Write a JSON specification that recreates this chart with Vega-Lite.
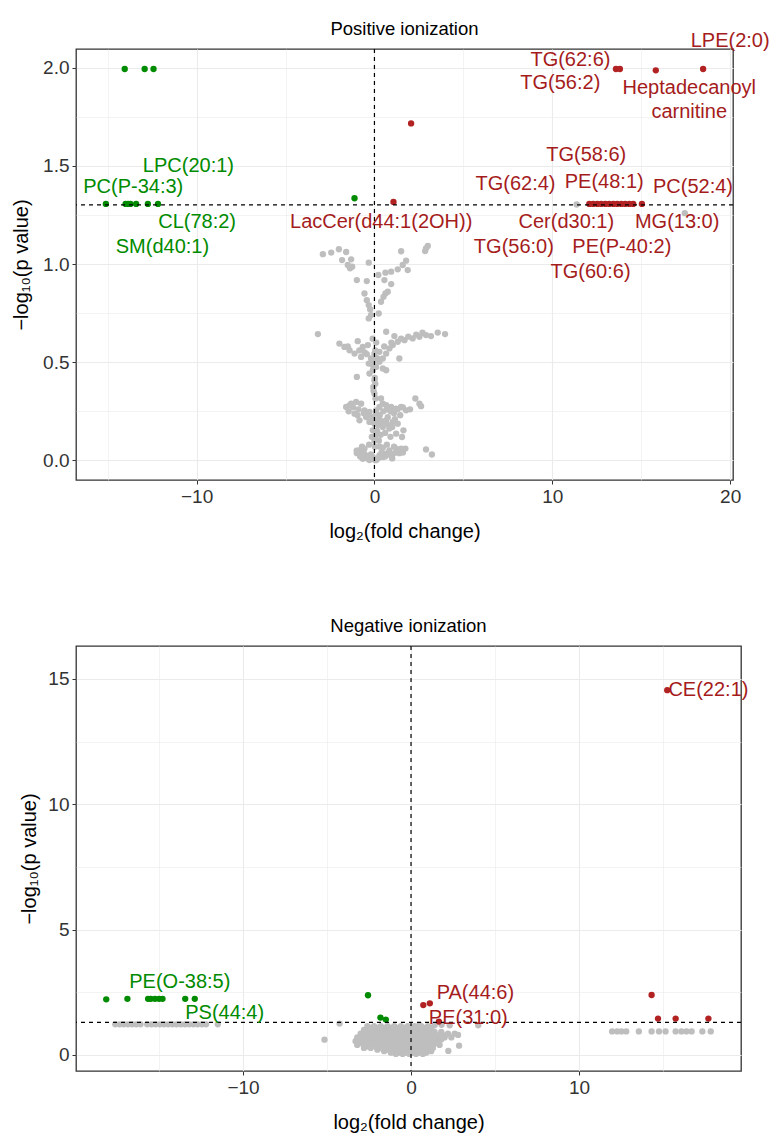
{
  "$schema": "https://vega.github.io/schema/vega-lite/v6.json",
  "background": "white",
  "padding": {"left": 10, "top": 19, "right": 5, "bottom": 0},
  "spacing": 74,
  "config": {
    "font": "Liberation Sans",
    "view": {"stroke": "#333333", "strokeWidth": 1.3},
    "axis": {"domain": false, "grid": true, "gridColor": "#ebebeb", "tickColor": "#333333", "tickSize": 4, "labelColor": "#333333", "labelFontSize": 19, "labelFont": "Liberation Sans", "labelPadding": 3, "titleFont": "Liberation Sans", "titleFontSize": 20, "titleFontWeight": "normal", "titleColor": "#000000", "titlePadding": 8},
    "axisX": {"titlePadding": 15},
    "title": {"fontSize": 18.5, "fontWeight": "normal", "font": "Liberation Sans", "color": "#000000", "anchor": "middle", "offset": 10}
  },
  "datasets": {
    "pos": [
      {"x":-2.90,"y":1.050,"g":"ns"},{"x":-2.43,"y":1.058,"g":"ns"},{"x":-2.00,"y":1.075,"g":"ns"},{"x":-1.59,"y":1.061,"g":"ns"},{"x":-1.31,"y":1.024,"g":"ns"},{"x":-1.82,"y":1.020,"g":"ns"},{"x":-1.50,"y":0.995,"g":"ns"},{"x":-1.37,"y":0.978,"g":"ns"},{"x":-1.25,"y":0.986,"g":"ns"},{"x":-0.99,"y":0.918,"g":"ns"},{"x":-0.43,"y":0.913,"g":"ns"},{"x":-0.32,"y":1.007,"g":"ns"},
      {"x":1.50,"y":1.065,"g":"ns"},{"x":2.90,"y":1.080,"g":"ns"},{"x":3.00,"y":1.092,"g":"ns"},{"x":2.85,"y":1.066,"g":"ns"},{"x":1.78,"y":1.017,"g":"ns"},{"x":1.59,"y":0.995,"g":"ns"},{"x":1.31,"y":0.973,"g":"ns"},{"x":0.94,"y":0.961,"g":"ns"},{"x":0.62,"y":0.956,"g":"ns"},{"x":0.22,"y":0.944,"g":"ns"},{"x":1.87,"y":0.969,"g":"ns"},{"x":0.56,"y":0.918,"g":"ns"},{"x":0.94,"y":0.898,"g":"ns"},
      {"x":-0.56,"y":0.850,"g":"ns"},{"x":-0.43,"y":0.816,"g":"ns"},{"x":-0.32,"y":0.791,"g":"ns"},{"x":-0.24,"y":0.769,"g":"ns"},{"x":-0.19,"y":0.740,"g":"ns"},{"x":-0.32,"y":0.723,"g":"ns"},{"x":0.24,"y":0.748,"g":"ns"},{"x":0.37,"y":0.808,"g":"ns"},{"x":0.51,"y":0.833,"g":"ns"},{"x":0.62,"y":0.850,"g":"ns"},{"x":0.75,"y":0.859,"g":"ns"},
      {"x":-3.18,"y":0.643,"g":"ns"},{"x":0.66,"y":0.655,"g":"ns"},{"x":1.12,"y":0.633,"g":"ns"},{"x":3.56,"y":0.651,"g":"ns"},{"x":3.97,"y":0.643,"g":"ns"},{"x":-1.97,"y":0.595,"g":"ns"},{"x":-1.69,"y":0.578,"g":"ns"},{"x":-1.40,"y":0.561,"g":"ns"},{"x":-0.94,"y":0.607,"g":"ns"},{"x":-0.66,"y":0.578,"g":"ns"},{"x":-0.37,"y":0.587,"g":"ns"},{"x":-1.12,"y":0.544,"g":"ns"},{"x":-0.75,"y":0.527,"g":"ns"},{"x":-0.43,"y":0.541,"g":"ns"},{"x":-0.19,"y":0.519,"g":"ns"},{"x":-0.32,"y":0.493,"g":"ns"},{"x":-0.09,"y":0.485,"g":"ns"},{"x":0.09,"y":0.476,"g":"ns"},{"x":0.28,"y":0.502,"g":"ns"},{"x":0.47,"y":0.519,"g":"ns"},{"x":0.66,"y":0.544,"g":"ns"},{"x":0.84,"y":0.570,"g":"ns"},{"x":1.03,"y":0.587,"g":"ns"},{"x":1.31,"y":0.604,"g":"ns"},{"x":1.69,"y":0.612,"g":"ns"},{"x":2.15,"y":0.621,"g":"ns"},{"x":2.53,"y":0.629,"g":"ns"},{"x":2.90,"y":0.638,"g":"ns"},{"x":3.18,"y":0.633,"g":"ns"},{"x":1.40,"y":0.519,"g":"ns"},{"x":0.28,"y":0.553,"g":"ns"},{"x":0.00,"y":0.544,"g":"ns"},{"x":0.66,"y":0.459,"g":"ns"},{"x":0.47,"y":0.468,"g":"ns"},{"x":-0.09,"y":0.459,"g":"ns"},{"x":-0.28,"y":0.442,"g":"ns"},{"x":-0.99,"y":0.425,"g":"ns"},
      {"x":-1.5,"y":0.58,"g":"ns"},{"x":-0.85,"y":0.56,"g":"ns"},{"x":-0.55,"y":0.55,"g":"ns"},{"x":0.15,"y":0.52,"g":"ns"},{"x":0.55,"y":0.58,"g":"ns"},{"x":0.95,"y":0.6,"g":"ns"},{"x":1.5,"y":0.62,"g":"ns"},{"x":1.9,"y":0.63,"g":"ns"},{"x":2.35,"y":0.64,"g":"ns"},{"x":2.7,"y":0.65,"g":"ns"},
      {"x":0.00,"y":0.408,"g":"ns"},{"x":-0.06,"y":0.374,"g":"ns"},{"x":0.00,"y":0.340,"g":"ns"},{"x":0.06,"y":0.315,"g":"ns"},{"x":0.05,"y":0.39,"g":"ns"},{"x":-0.05,"y":0.355,"g":"ns"},{"x":0.02,"y":0.42,"g":"ns"},{"x":-0.05,"y":0.5,"g":"ns"},{"x":0.05,"y":0.56,"g":"ns"},{"x":0.1,"y":0.6,"g":"ns"},{"x":-0.1,"y":0.62,"g":"ns"},
      {"x":-1.59,"y":0.272,"g":"ns"},{"x":-1.31,"y":0.289,"g":"ns"},{"x":-1.03,"y":0.298,"g":"ns"},{"x":-0.75,"y":0.289,"g":"ns"},{"x":-0.56,"y":0.255,"g":"ns"},{"x":-0.28,"y":0.247,"g":"ns"},{"x":0.09,"y":0.255,"g":"ns"},{"x":0.28,"y":0.272,"g":"ns"},{"x":0.47,"y":0.289,"g":"ns"},{"x":0.66,"y":0.281,"g":"ns"},{"x":0.94,"y":0.272,"g":"ns"},{"x":1.22,"y":0.264,"g":"ns"},{"x":1.50,"y":0.272,"g":"ns"},{"x":1.78,"y":0.255,"g":"ns"},{"x":0.37,"y":0.315,"g":"ns"},{"x":2.30,"y":0.315,"g":"ns"},{"x":2.53,"y":0.289,"g":"ns"},{"x":2.62,"y":0.276,"g":"ns"},
      {"x":-1.4,"y":0.28,"g":"ns"},{"x":-1.2,"y":0.27,"g":"ns"},{"x":-0.9,"y":0.26,"g":"ns"},{"x":-0.6,"y":0.24,"g":"ns"},{"x":-0.3,"y":0.23,"g":"ns"},{"x":0.1,"y":0.24,"g":"ns"},{"x":0.3,"y":0.23,"g":"ns"},{"x":0.5,"y":0.25,"g":"ns"},{"x":0.7,"y":0.26,"g":"ns"},{"x":0.9,"y":0.25,"g":"ns"},{"x":1.1,"y":0.24,"g":"ns"},{"x":1.3,"y":0.26,"g":"ns"},{"x":1.6,"y":0.27,"g":"ns"},{"x":-0.2,"y":0.2,"g":"ns"},{"x":0.2,"y":0.18,"g":"ns"},{"x":0.4,"y":0.2,"g":"ns"},{"x":0.6,"y":0.19,"g":"ns"},{"x":0.8,"y":0.18,"g":"ns"},{"x":1.0,"y":0.17,"g":"ns"},{"x":0.15,"y":0.15,"g":"ns"},{"x":0.35,"y":0.13,"g":"ns"},{"x":0.6,"y":0.14,"g":"ns"},{"x":0.9,"y":0.12,"g":"ns"},
      {"x":-1.45,"y":0.25,"g":"ns"},{"x":-0.95,"y":0.23,"g":"ns"},{"x":-0.1,"y":0.22,"g":"ns"},{"x":0.2,"y":0.21,"g":"ns"},{"x":0.75,"y":0.22,"g":"ns"},{"x":1.15,"y":0.21,"g":"ns"},{"x":1.45,"y":0.23,"g":"ns"},{"x":2.0,"y":0.26,"g":"ns"},{"x":0.25,"y":0.1,"g":"ns"},{"x":-0.15,"y":0.12,"g":"ns"},
      {"x":-0.47,"y":0.221,"g":"ns"},{"x":-0.28,"y":0.196,"g":"ns"},{"x":0.00,"y":0.187,"g":"ns"},{"x":0.28,"y":0.204,"g":"ns"},{"x":0.66,"y":0.204,"g":"ns"},{"x":1.03,"y":0.196,"g":"ns"},{"x":1.31,"y":0.187,"g":"ns"},{"x":0.47,"y":0.170,"g":"ns"},{"x":0.84,"y":0.162,"g":"ns"},{"x":-0.09,"y":0.153,"g":"ns"},{"x":0.09,"y":0.128,"g":"ns"},{"x":1.22,"y":0.136,"g":"ns"},{"x":1.63,"y":0.153,"g":"ns"},{"x":1.55,"y":0.119,"g":"ns"},{"x":-0.84,"y":0.204,"g":"ns"},{"x":-1.12,"y":0.238,"g":"ns"},{"x":0.0,"y":0.1,"g":"ns"},{"x":0.02,"y":0.07,"g":"ns"},
      {"x":-0.88,"y":0.051,"g":"ns"},{"x":-0.75,"y":0.034,"g":"ns"},{"x":-0.47,"y":0.026,"g":"ns"},{"x":-0.09,"y":0.017,"g":"ns"},{"x":0.28,"y":0.026,"g":"ns"},{"x":0.66,"y":0.034,"g":"ns"},{"x":1.03,"y":0.031,"g":"ns"},{"x":1.40,"y":0.037,"g":"ns"},{"x":1.74,"y":0.060,"g":"ns"},{"x":2.90,"y":0.056,"g":"ns"},{"x":-0.66,"y":0.008,"g":"ns"},{"x":-0.28,"y":0.002,"g":"ns"},{"x":0.09,"y":0.001,"g":"ns"},{"x":0.47,"y":0.017,"g":"ns"},{"x":-0.99,"y":0.037,"g":"ns"},{"x":-0.56,"y":0.060,"g":"ns"},{"x":0.47,"y":0.065,"g":"ns"},{"x":0.84,"y":0.051,"g":"ns"},{"x":1.22,"y":0.060,"g":"ns"},{"x":0.00,"y":0.003,"g":"ns"},{"x":-0.09,"y":0.008,"g":"ns"},
      {"x":-0.8,"y":0.02,"g":"ns"},{"x":-0.6,"y":0.04,"g":"ns"},{"x":-0.4,"y":0.01,"g":"ns"},{"x":-0.2,"y":0.03,"g":"ns"},{"x":0.2,"y":0.01,"g":"ns"},{"x":0.4,"y":0.04,"g":"ns"},{"x":0.6,"y":0.02,"g":"ns"},{"x":0.8,"y":0.03,"g":"ns"},{"x":1.0,"y":0.01,"g":"ns"},{"x":1.2,"y":0.04,"g":"ns"},{"x":1.6,"y":0.04,"g":"ns"},{"x":-1.0,"y":0.05,"g":"ns"},{"x":-0.7,"y":0.07,"g":"ns"},{"x":-0.3,"y":0.08,"g":"ns"},{"x":0.3,"y":0.07,"g":"ns"},{"x":0.7,"y":0.08,"g":"ns"},{"x":1.1,"y":0.07,"g":"ns"},{"x":1.5,"y":0.06,"g":"ns"},{"x":3.23,"y":0.03,"g":"ns"},
      {"x":11.37,"y":1.303,"g":"ns"},{"x":17.45,"y":1.259,"g":"ns"},
      {"x":-14.04,"y":1.993,"g":"d"},{"x":-12.92,"y":1.993,"g":"d"},{"x":-12.42,"y":1.993,"g":"d"},
      {"x":-15.1,"y":1.306,"g":"d"},{"x":-13.99,"y":1.306,"g":"d"},{"x":-13.85,"y":1.306,"g":"d"},{"x":-13.72,"y":1.306,"g":"d"},{"x":-13.4,"y":1.306,"g":"d"},{"x":-12.74,"y":1.306,"g":"d"},{"x":-12.17,"y":1.306,"g":"d"},{"x":-1.12,"y":1.335,"g":"d"},
      {"x":18.48,"y":1.993,"g":"u"},{"x":15.82,"y":1.986,"g":"u"},{"x":13.58,"y":1.993,"g":"u"},{"x":13.8,"y":1.993,"g":"u"},{"x":2.06,"y":1.716,"g":"u"},{"x":1.07,"y":1.316,"g":"u"},
      {"x":12.08,"y":1.306,"g":"u"},{"x":12.3,"y":1.306,"g":"u"},{"x":12.53,"y":1.306,"g":"u"},{"x":12.75,"y":1.306,"g":"u"},{"x":12.98,"y":1.306,"g":"u"},{"x":13.2,"y":1.306,"g":"u"},{"x":13.43,"y":1.306,"g":"u"},{"x":13.65,"y":1.306,"g":"u"},{"x":13.88,"y":1.306,"g":"u"},{"x":14.1,"y":1.306,"g":"u"},{"x":14.33,"y":1.306,"g":"u"},{"x":14.55,"y":1.306,"g":"u"},{"x":15.04,"y":1.306,"g":"u"}
    ],
    "poslab": [
      {"x":-10.46,"y":1.50,"label":"LPC(20:1)","g":"d"},
      {"x":-13.56,"y":1.394,"label":"PC(P-34:3)","g":"d"},
      {"x":-9.97,"y":1.216,"label":"CL(78:2)","g":"d"},
      {"x":-11.92,"y":1.088,"label":"SM(d40:1)","g":"d"},
      {"x":0.38,"y":1.216,"label":"LacCer(d44:1(2OH))","g":"u"},
      {"x":11.02,"y":2.037,"label":"TG(62:6)","g":"u"},
      {"x":10.45,"y":1.922,"label":"TG(56:2)","g":"u"},
      {"x":20.0,"y":2.133,"label":"LPE(2:0)","g":"u"},
      {"x":17.7,"y":1.894,"label":"Heptadecanoyl","g":"u"},
      {"x":17.7,"y":1.776,"label":"carnitine","g":"u"},
      {"x":11.91,"y":1.556,"label":"TG(58:6)","g":"u"},
      {"x":7.93,"y":1.407,"label":"TG(62:4)","g":"u"},
      {"x":12.92,"y":1.42,"label":"PE(48:1)","g":"u"},
      {"x":17.91,"y":1.394,"label":"PC(52:4)","g":"u"},
      {"x":10.79,"y":1.216,"label":"Cer(d30:1)","g":"u"},
      {"x":17.02,"y":1.216,"label":"MG(13:0)","g":"u"},
      {"x":7.84,"y":1.088,"label":"TG(56:0)","g":"u"},
      {"x":13.91,"y":1.088,"label":"PE(P-40:2)","g":"u"},
      {"x":12.15,"y":0.958,"label":"TG(60:6)","g":"u"}
    ],
    "neg": [
      {"x":-17.6,"y":1.22,"g":"ns"},{"x":-17.35,"y":1.22,"g":"ns"},{"x":-17.1,"y":1.22,"g":"ns"},{"x":-16.85,"y":1.22,"g":"ns"},{"x":-16.6,"y":1.22,"g":"ns"},{"x":-16.35,"y":1.22,"g":"ns"},{"x":-16.1,"y":1.22,"g":"ns"},{"x":-15.7,"y":1.22,"g":"ns"},{"x":-15.45,"y":1.22,"g":"ns"},{"x":-15.2,"y":1.22,"g":"ns"},{"x":-14.95,"y":1.22,"g":"ns"},{"x":-14.7,"y":1.22,"g":"ns"},{"x":-14.45,"y":1.22,"g":"ns"},{"x":-14.2,"y":1.22,"g":"ns"},{"x":-13.95,"y":1.22,"g":"ns"},{"x":-13.7,"y":1.22,"g":"ns"},{"x":-13.45,"y":1.22,"g":"ns"},{"x":-13.2,"y":1.22,"g":"ns"},{"x":-12.95,"y":1.22,"g":"ns"},{"x":-12.7,"y":1.22,"g":"ns"},{"x":-12.45,"y":1.22,"g":"ns"},{"x":-12.2,"y":1.22,"g":"ns"},{"x":-11.5,"y":1.22,"g":"ns"},
      {"x":-4.25,"y":1.25,"g":"ns"},{"x":-5.15,"y":0.61,"g":"ns"},{"x":4.0,"y":1.18,"g":"ns"},{"x":2.86,"y":0.37,"g":"ns"},{"x":2.22,"y":0.16,"g":"ns"},{"x":2.3,"y":1.18,"g":"ns"},{"x":1.82,"y":1.2,"g":"ns"},{"x":1.12,"y":1.1,"g":"ns"},{"x":0.5,"y":1.2,"g":"ns"},{"x":1.4,"y":1.18,"g":"ns"},
      {"x":-2.6,"y":1.15,"g":"ns"},{"x":-2.2,"y":1.15,"g":"ns"},{"x":-1.8,"y":1.15,"g":"ns"},{"x":-1.4,"y":1.15,"g":"ns"},{"x":-1.0,"y":1.15,"g":"ns"},{"x":-0.6,"y":1.15,"g":"ns"},{"x":-0.2,"y":1.15,"g":"ns"},{"x":0.2,"y":1.15,"g":"ns"},{"x":0.6,"y":1.15,"g":"ns"},{"x":1.0,"y":1.15,"g":"ns"},
      {"x":-2.4,"y":1.08,"g":"ns"},{"x":-2.0,"y":1.08,"g":"ns"},{"x":-1.6,"y":1.08,"g":"ns"},{"x":-1.2,"y":1.08,"g":"ns"},{"x":-0.8,"y":1.08,"g":"ns"},{"x":-0.4,"y":1.08,"g":"ns"},{"x":0.0,"y":1.08,"g":"ns"},{"x":0.4,"y":1.08,"g":"ns"},{"x":0.8,"y":1.08,"g":"ns"},
      {"x":-2.8,"y":1.0,"g":"ns"},{"x":-2.4,"y":1.0,"g":"ns"},{"x":-2.0,"y":1.0,"g":"ns"},{"x":-1.6,"y":1.0,"g":"ns"},{"x":-1.2,"y":1.0,"g":"ns"},{"x":-0.8,"y":1.0,"g":"ns"},{"x":-0.4,"y":1.0,"g":"ns"},{"x":0.0,"y":1.0,"g":"ns"},{"x":0.4,"y":1.0,"g":"ns"},{"x":0.8,"y":1.0,"g":"ns"},{"x":1.2,"y":1.0,"g":"ns"},
      {"x":-2.6,"y":0.92,"g":"ns"},{"x":-2.2,"y":0.92,"g":"ns"},{"x":-1.8,"y":0.92,"g":"ns"},{"x":-1.4,"y":0.92,"g":"ns"},{"x":-1.0,"y":0.92,"g":"ns"},{"x":-0.6,"y":0.92,"g":"ns"},{"x":-0.2,"y":0.92,"g":"ns"},{"x":0.2,"y":0.92,"g":"ns"},{"x":0.6,"y":0.92,"g":"ns"},{"x":1.0,"y":0.92,"g":"ns"},{"x":1.4,"y":0.92,"g":"ns"},{"x":1.8,"y":0.92,"g":"ns"},
      {"x":-3.0,"y":0.85,"g":"ns"},{"x":-2.6,"y":0.85,"g":"ns"},{"x":-2.2,"y":0.85,"g":"ns"},{"x":-1.8,"y":0.85,"g":"ns"},{"x":-1.4,"y":0.85,"g":"ns"},{"x":-1.0,"y":0.85,"g":"ns"},{"x":-0.6,"y":0.85,"g":"ns"},{"x":-0.2,"y":0.85,"g":"ns"},{"x":0.2,"y":0.85,"g":"ns"},{"x":0.6,"y":0.85,"g":"ns"},{"x":1.0,"y":0.85,"g":"ns"},{"x":1.4,"y":0.85,"g":"ns"},{"x":1.8,"y":0.85,"g":"ns"},{"x":2.2,"y":0.85,"g":"ns"},{"x":2.6,"y":0.85,"g":"ns"},
      {"x":-2.8,"y":0.77,"g":"ns"},{"x":-2.4,"y":0.77,"g":"ns"},{"x":-2.0,"y":0.77,"g":"ns"},{"x":-1.6,"y":0.77,"g":"ns"},{"x":-1.2,"y":0.77,"g":"ns"},{"x":-0.8,"y":0.77,"g":"ns"},{"x":-0.4,"y":0.77,"g":"ns"},{"x":0.0,"y":0.77,"g":"ns"},{"x":0.4,"y":0.77,"g":"ns"},{"x":0.8,"y":0.77,"g":"ns"},{"x":1.2,"y":0.77,"g":"ns"},{"x":1.6,"y":0.77,"g":"ns"},{"x":2.0,"y":0.77,"g":"ns"},{"x":2.8,"y":0.8,"g":"ns"},
      {"x":-3.2,"y":0.7,"g":"ns"},{"x":-2.8,"y":0.7,"g":"ns"},{"x":-2.4,"y":0.7,"g":"ns"},{"x":-2.0,"y":0.7,"g":"ns"},{"x":-1.6,"y":0.7,"g":"ns"},{"x":-1.2,"y":0.7,"g":"ns"},{"x":-0.8,"y":0.7,"g":"ns"},{"x":-0.4,"y":0.7,"g":"ns"},{"x":0.0,"y":0.7,"g":"ns"},{"x":0.4,"y":0.7,"g":"ns"},{"x":0.8,"y":0.7,"g":"ns"},{"x":1.2,"y":0.7,"g":"ns"},{"x":1.6,"y":0.7,"g":"ns"},{"x":2.0,"y":0.7,"g":"ns"},{"x":2.4,"y":0.7,"g":"ns"},
      {"x":-3.0,"y":0.62,"g":"ns"},{"x":-2.6,"y":0.62,"g":"ns"},{"x":-2.2,"y":0.62,"g":"ns"},{"x":-1.8,"y":0.62,"g":"ns"},{"x":-1.4,"y":0.62,"g":"ns"},{"x":-1.0,"y":0.62,"g":"ns"},{"x":-0.6,"y":0.62,"g":"ns"},{"x":-0.2,"y":0.62,"g":"ns"},{"x":0.2,"y":0.62,"g":"ns"},{"x":0.6,"y":0.62,"g":"ns"},{"x":1.0,"y":0.62,"g":"ns"},{"x":1.4,"y":0.62,"g":"ns"},{"x":1.8,"y":0.62,"g":"ns"},
      {"x":-3.3,"y":0.55,"g":"ns"},{"x":-2.9,"y":0.55,"g":"ns"},{"x":-2.5,"y":0.55,"g":"ns"},{"x":-2.1,"y":0.55,"g":"ns"},{"x":-1.7,"y":0.55,"g":"ns"},{"x":-1.3,"y":0.55,"g":"ns"},{"x":-0.9,"y":0.55,"g":"ns"},{"x":-0.5,"y":0.55,"g":"ns"},{"x":-0.1,"y":0.55,"g":"ns"},{"x":0.3,"y":0.55,"g":"ns"},{"x":0.7,"y":0.55,"g":"ns"},{"x":1.1,"y":0.55,"g":"ns"},{"x":1.5,"y":0.55,"g":"ns"},
      {"x":-3.0,"y":0.47,"g":"ns"},{"x":-2.5,"y":0.47,"g":"ns"},{"x":-2.1,"y":0.47,"g":"ns"},{"x":-1.7,"y":0.47,"g":"ns"},{"x":-1.3,"y":0.47,"g":"ns"},{"x":-0.9,"y":0.47,"g":"ns"},{"x":-0.5,"y":0.47,"g":"ns"},{"x":-0.1,"y":0.47,"g":"ns"},{"x":0.3,"y":0.47,"g":"ns"},{"x":0.7,"y":0.47,"g":"ns"},{"x":1.1,"y":0.47,"g":"ns"},{"x":1.5,"y":0.47,"g":"ns"},
      {"x":-3.2,"y":0.4,"g":"ns"},{"x":-2.7,"y":0.4,"g":"ns"},{"x":-2.3,"y":0.4,"g":"ns"},{"x":-1.9,"y":0.4,"g":"ns"},{"x":-1.5,"y":0.4,"g":"ns"},{"x":-1.1,"y":0.4,"g":"ns"},{"x":-0.7,"y":0.4,"g":"ns"},{"x":-0.3,"y":0.4,"g":"ns"},{"x":0.1,"y":0.4,"g":"ns"},{"x":0.5,"y":0.4,"g":"ns"},{"x":0.9,"y":0.4,"g":"ns"},{"x":1.3,"y":0.4,"g":"ns"},{"x":1.7,"y":0.4,"g":"ns"},
      {"x":-2.6,"y":0.34,"g":"ns"},{"x":-2.1,"y":0.34,"g":"ns"},{"x":-1.7,"y":0.34,"g":"ns"},{"x":-1.3,"y":0.34,"g":"ns"},{"x":-0.9,"y":0.34,"g":"ns"},{"x":-0.5,"y":0.34,"g":"ns"},{"x":-0.1,"y":0.34,"g":"ns"},{"x":0.3,"y":0.34,"g":"ns"},{"x":0.7,"y":0.34,"g":"ns"},{"x":1.1,"y":0.34,"g":"ns"},
      {"x":-2.8,"y":0.28,"g":"ns"},{"x":-2.4,"y":0.28,"g":"ns"},{"x":-1.9,"y":0.28,"g":"ns"},{"x":-1.5,"y":0.28,"g":"ns"},{"x":-1.1,"y":0.28,"g":"ns"},{"x":-0.7,"y":0.28,"g":"ns"},{"x":-0.3,"y":0.28,"g":"ns"},{"x":0.1,"y":0.28,"g":"ns"},{"x":0.5,"y":0.28,"g":"ns"},{"x":0.9,"y":0.28,"g":"ns"},{"x":1.3,"y":0.28,"g":"ns"},
      {"x":-2.0,"y":0.21,"g":"ns"},{"x":-1.4,"y":0.21,"g":"ns"},{"x":-1.0,"y":0.21,"g":"ns"},{"x":-0.6,"y":0.21,"g":"ns"},{"x":-0.2,"y":0.21,"g":"ns"},{"x":0.2,"y":0.21,"g":"ns"},{"x":0.6,"y":0.21,"g":"ns"},{"x":1.0,"y":0.21,"g":"ns"},
      {"x":-1.6,"y":0.15,"g":"ns"},{"x":-1.2,"y":0.15,"g":"ns"},{"x":-0.8,"y":0.15,"g":"ns"},{"x":-0.4,"y":0.15,"g":"ns"},{"x":0.0,"y":0.15,"g":"ns"},{"x":0.4,"y":0.15,"g":"ns"},{"x":0.8,"y":0.15,"g":"ns"},{"x":1.2,"y":0.15,"g":"ns"},
      {"x":-1.2,"y":0.09,"g":"ns"},{"x":-0.7,"y":0.09,"g":"ns"},{"x":-0.3,"y":0.09,"g":"ns"},{"x":0.1,"y":0.09,"g":"ns"},{"x":0.5,"y":0.09,"g":"ns"},{"x":0.9,"y":0.09,"g":"ns"},
      {"x":-0.9,"y":0.04,"g":"ns"},{"x":-0.5,"y":0.04,"g":"ns"},{"x":-0.1,"y":0.04,"g":"ns"},{"x":0.3,"y":0.04,"g":"ns"},{"x":0.7,"y":0.04,"g":"ns"},
      {"x":11.97,"y":0.94,"g":"ns"},{"x":12.27,"y":0.94,"g":"ns"},{"x":12.53,"y":0.94,"g":"ns"},{"x":12.81,"y":0.94,"g":"ns"},{"x":13.56,"y":0.94,"g":"ns"},{"x":14.32,"y":0.94,"g":"ns"},{"x":14.76,"y":0.94,"g":"ns"},{"x":15.15,"y":0.94,"g":"ns"},{"x":15.75,"y":0.94,"g":"ns"},{"x":16.09,"y":0.94,"g":"ns"},{"x":16.39,"y":0.94,"g":"ns"},{"x":16.7,"y":0.94,"g":"ns"},{"x":17.34,"y":0.94,"g":"ns"},{"x":17.84,"y":0.94,"g":"ns"},
      {"x":-18.14,"y":2.22,"g":"d"},{"x":-16.88,"y":2.24,"g":"d"},{"x":-15.65,"y":2.24,"g":"d"},{"x":-15.49,"y":2.24,"g":"d"},{"x":-15.24,"y":2.24,"g":"d"},{"x":-15.0,"y":2.24,"g":"d"},{"x":-14.79,"y":2.24,"g":"d"},{"x":-13.44,"y":2.24,"g":"d"},{"x":-12.87,"y":2.24,"g":"d"},{"x":-2.56,"y":2.38,"g":"d"},{"x":-1.82,"y":1.49,"g":"d"},{"x":-1.5,"y":1.41,"g":"d"},
      {"x":15.25,"y":14.55,"g":"u"},{"x":0.73,"y":1.99,"g":"u"},{"x":1.12,"y":2.06,"g":"u"},{"x":1.66,"y":1.33,"g":"u"},{"x":14.32,"y":2.39,"g":"u"},{"x":14.7,"y":1.45,"g":"u"},{"x":15.75,"y":1.45,"g":"u"},{"x":17.7,"y":1.45,"g":"u"}
    ],
    "neglab": [
      {"x":-13.76,"y":2.92,"label":"PE(O-38:5)","g":"d"},
      {"x":-11.09,"y":1.66,"label":"PS(44:4)","g":"d"},
      {"x":3.83,"y":2.46,"label":"PA(44:6)","g":"u"},
      {"x":3.41,"y":1.49,"label":"PE(31:0)","g":"u"},
      {"x":17.7,"y":14.55,"label":"CE(22:1)","g":"u"}
    ]
  },
  "vconcat": [
    {
      "title": {"text": "Positive ionization", "offset": -7},
      "width": 657,
      "height": 431,
      "encoding": {
        "x": {"field": "x", "type": "quantitative", "scale": {"domain": [-16.78, 20.16], "nice": false, "zero": false},
          "axis": {"title": "log₂(fold change)", "values": [-15, -10, -5, 0, 5, 10, 15, 20], "labelExpr": "datum.value % 10 === 0 ? datum.label : ''", "tickOpacity": {"condition": {"test": "datum.value % 10 === 0", "value": 1}, "value": 0}, "gridWidth": {"condition": {"test": "datum.value % 10 === 0", "value": 1.1}, "value": 0.6}}},
        "y": {"field": "y", "type": "quantitative", "scale": {"domain": [-0.0998, 2.0948], "nice": false, "zero": false},
          "axis": {"title": "−log₁₀(p value)", "titlePadding": 11, "values": [0, 0.25, 0.5, 0.75, 1, 1.25, 1.5, 1.75, 2], "labelExpr": "round(datum.value*4) % 2 === 0 ? format(datum.value, '.1f') : ''", "tickOpacity": {"condition": {"test": "round(datum.value*4) % 2 === 0", "value": 1}, "value": 0}, "gridWidth": {"condition": {"test": "round(datum.value*4) % 2 === 0", "value": 1.1}, "value": 0.6}}}
      },
      "layer": [
        {"data": {"name": "pos"}, "mark": {"type": "circle", "size": 40, "opacity": 1},
          "encoding": {"color": {"field": "g", "type": "nominal", "scale": {"domain": ["ns", "d", "u"], "range": ["#BEBEBE", "#008B00", "#B22222"]}, "legend": null}}},
        {"data": {"values": [{"x": 0}]}, "mark": {"type": "rule", "color": "#000000", "strokeDash": [4, 4], "strokeWidth": 1.2}, "encoding": {"x": {"field": "x", "type": "quantitative"}, "y": null}},
        {"data": {"values": [{"y": 1.30103}]}, "mark": {"type": "rule", "color": "#000000", "strokeDash": [4, 4], "strokeWidth": 1.2}, "encoding": {"y": {"field": "y", "type": "quantitative"}, "x": null}},
        {"data": {"name": "poslab"}, "mark": {"type": "text", "fontSize": 20, "align": "center", "baseline": "middle", "font": "Liberation Sans"},
          "encoding": {"text": {"field": "label"}, "color": {"field": "g", "type": "nominal", "scale": {"domain": ["ns", "d", "u"], "range": ["#BEBEBE", "#008B00", "#A51C1C"]}, "legend": null}}}
      ],
      "resolve": {"scale": {"color": "independent"}}
    },
    {
      "title": "Negative ionization",
      "width": 665,
      "height": 425,
      "encoding": {
        "x": {"field": "x", "type": "quantitative", "scale": {"domain": [-19.94, 19.64], "nice": false, "zero": false},
          "axis": {"title": "log₂(fold change)", "titlePadding": 15, "values": [-15, -10, -5, 0, 5, 10, 15], "labelExpr": "datum.value % 10 === 0 ? datum.label : ''", "tickOpacity": {"condition": {"test": "datum.value % 10 === 0", "value": 1}, "value": 0}, "gridWidth": {"condition": {"test": "datum.value % 10 === 0", "value": 1.1}, "value": 0.6}}},
        "y": {"field": "y", "type": "quantitative", "scale": {"domain": [-0.64, 16.31], "nice": false, "zero": false},
          "axis": {"title": "−log₁₀(p value)", "values": [0, 2.5, 5, 7.5, 10, 12.5, 15], "labelExpr": "datum.value % 5 === 0 ? datum.label : ''", "tickOpacity": {"condition": {"test": "datum.value % 5 === 0", "value": 1}, "value": 0}, "gridWidth": {"condition": {"test": "datum.value % 5 === 0", "value": 1.1}, "value": 0.6}}}
      },
      "layer": [
        {"data": {"name": "neg"}, "mark": {"type": "circle", "size": 40, "opacity": 1},
          "encoding": {"color": {"field": "g", "type": "nominal", "scale": {"domain": ["ns", "d", "u"], "range": ["#BEBEBE", "#008B00", "#B22222"]}, "legend": null}}},
        {"data": {"values": [{"x": 0}]}, "mark": {"type": "rule", "color": "#000000", "strokeDash": [4, 4], "strokeWidth": 1.2}, "encoding": {"x": {"field": "x", "type": "quantitative"}, "y": null}},
        {"data": {"values": [{"y": 1.30103}]}, "mark": {"type": "rule", "color": "#000000", "strokeDash": [4, 4], "strokeWidth": 1.2}, "encoding": {"y": {"field": "y", "type": "quantitative"}, "x": null}},
        {"data": {"name": "neglab"}, "mark": {"type": "text", "fontSize": 20, "align": "center", "baseline": "middle", "font": "Liberation Sans"},
          "encoding": {"text": {"field": "label"}, "color": {"field": "g", "type": "nominal", "scale": {"domain": ["ns", "d", "u"], "range": ["#BEBEBE", "#008B00", "#A51C1C"]}, "legend": null}}}
      ],
      "resolve": {"scale": {"color": "independent"}}
    }
  ]
}
